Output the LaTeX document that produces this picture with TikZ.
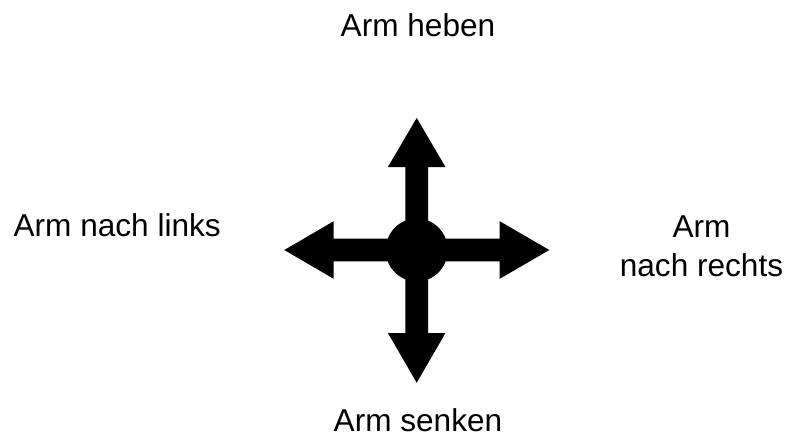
\documentclass[tikz,border=0pt]{standalone}
\usepackage{fontspec}
\setmainfont{Liberation Sans}
\usetikzlibrary{calc}
\begin{document}
\begin{tikzpicture}[x=1pt,y=-1pt,
  lbl/.style={inner sep=0pt,font=\fontsize{31.6pt}{38.3pt}\selectfont,align=center},
  shapefill/.style={fill=black,draw=none}]
\useasboundingbox (0,0) rectangle (795,437);
\coordinate (c) at (416.7,250);
% cross of four arrows
\fill[shapefill] ($(c)+(-11.3,-83)$) -- ($(c)+(-28.8,-83)$) -- ($(c)+(0,-132)$) -- ($(c)+(28.8,-83)$) -- ($(c)+(11.3,-83)$)
  -- ($(c)+(11.3,-11.3)$)
  -- ($(c)+(83,-11.3)$) -- ($(c)+(83,-28.8)$) -- ($(c)+(132.6,0)$) -- ($(c)+(83,28.8)$) -- ($(c)+(83,11.3)$)
  -- ($(c)+(11.3,11.3)$)
  -- ($(c)+(11.3,83)$) -- ($(c)+(28.8,83)$) -- ($(c)+(0,132.7)$) -- ($(c)+(-28.8,83)$) -- ($(c)+(-11.3,83)$)
  -- ($(c)+(-11.3,11.3)$)
  -- ($(c)+(-83,11.3)$) -- ($(c)+(-83,28.8)$) -- ($(c)+(-132.4,0)$) -- ($(c)+(-83,-28.8)$) -- ($(c)+(-83,-11.3)$)
  -- ($(c)+(-11.3,-11.3)$) -- cycle;
\fill[shapefill] (c) ellipse [x radius=31, y radius=31.5];
\node[lbl,anchor=base] (up) at (418,36.7) {Arm heben};
\node[lbl,anchor=base] (left) at (117.2,236.7) {Arm nach links};
\node[lbl,anchor=base] (down) at (418,431.7) {Arm senken};
\node[lbl,anchor=base] (right) at (701.5,276) {Arm\\nach rechts};
\end{tikzpicture}
\end{document}
